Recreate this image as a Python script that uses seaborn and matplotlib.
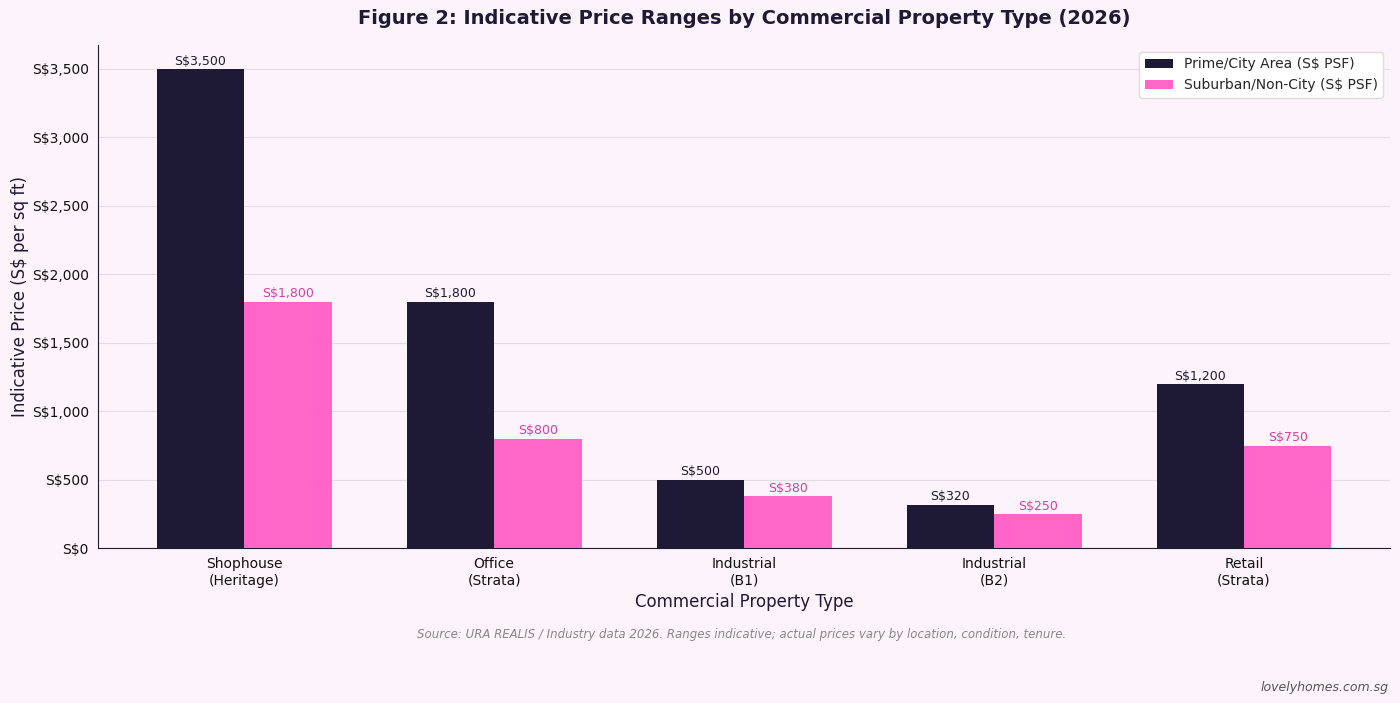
import pandas as pd
import matplotlib.pyplot as plt
import seaborn as sns
from matplotlib.ticker import FuncFormatter

# data
categories = ['Shophouse\n(Heritage)', 'Office\n(Strata)', 'Industrial\n(B1)', 'Industrial\n(B2)', 'Retail\n(Strata)']
prime_psf = [3500, 1800, 500, 320, 1200]
suburban_psf = [1800, 800, 380, 250, 750]
series_names = ['Prime/City Area (S$ PSF)', 'Suburban/Non-City (S$ PSF)']

bg = '#fdf3fa'
dark = '#1e1a35'
pink = '#ff66c8'

df = pd.DataFrame({
    'Type': categories * 2,
    'Price': prime_psf + suburban_psf,
    'Series': [series_names[0]] * len(categories) + [series_names[1]] * len(categories),
})

sns.set_style('white')
plt.rcParams['font.family'] = ['DejaVu Sans']

fig, ax = plt.subplots(figsize=(14, 7.03), dpi=100)
fig.patch.set_facecolor(bg)
ax.set_facecolor(bg)

sns.barplot(data=df, x='Type', y='Price', hue='Series', palette=[dark, pink],
            width=0.7, saturation=1, linewidth=0, ax=ax, zorder=3)

for cont, col in zip(ax.containers, ['#1e1a35', '#d63fa5']):
    ax.bar_label(cont, labels=[f'S${v:,.0f}' for v in cont.datavalues],
                 fontsize=9, color=col, padding=1)

ax.set_xlim(-0.585, 4.585)
ax.set_ylim(0, 3675)
ax.set_yticks(range(0, 3501, 500))
ax.yaxis.set_major_formatter(FuncFormatter(lambda v, p: f'S${v:,.0f}'))
ax.grid(axis='y', color='#e6dce6', linewidth=0.8, zorder=0)
ax.set_axisbelow(True)
sns.despine(ax=ax)
ax.spines['left'].set_color('#1e1a35')
ax.spines['bottom'].set_color('#1e1a35')
ax.tick_params(axis='both', labelsize=10, length=4, pad=2.5, color='#1e1a35', colors='#111111')

ax.set_xlabel('Commercial Property Type', fontsize=12, color='#1e1a35', labelpad=4)
ax.set_ylabel('Indicative Price (S$ per sq ft)', fontsize=12, color='#1e1a35', labelpad=2)
ax.set_title('Figure 2: Indicative Price Ranges by Commercial Property Type (2026)',
             fontsize=14, fontweight='bold', color='#1e1a35', pad=15)

leg = ax.legend(loc='upper right', fontsize=10, frameon=True, facecolor='white',
                edgecolor='#dddddd', framealpha=1)
leg.set_title(None)

plt.subplots_adjust(left=0.07, right=0.993, top=0.936, bottom=0.22)

fig.text(0.53, 0.093, 'Source: URA REALIS / Industry data 2026. Ranges indicative; actual prices vary by location, condition, tenure.',
         ha='center', fontsize=8.5, style='italic', color='#888888')
fig.text(0.992, 0.017, 'lovelyhomes.com.sg', ha='right', fontsize=9, style='italic', color='#555555')

plt.savefig('out.png', dpi=100, facecolor=bg)
